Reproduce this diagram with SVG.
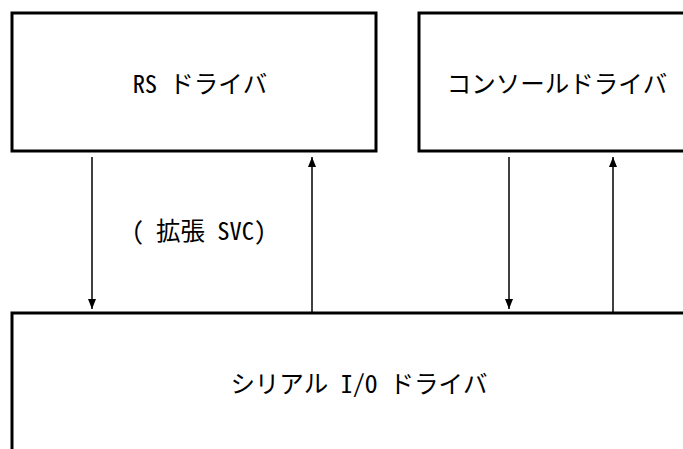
<svg xmlns="http://www.w3.org/2000/svg" width="683" height="449" viewBox="0 0 683 449">
<style>
.box{fill:#fff;stroke:#000;stroke-width:3}
.lbl{font-family:"Noto Sans Mono CJK JP","Noto Sans CJK JP","Noto Sans",sans-serif;font-size:24.5px;fill:#000;text-anchor:middle}
.conn{stroke:#000;stroke-width:1.5;fill:none}
</style>
<defs>
<marker id="ah" viewBox="0 0 10 8" refX="10" refY="4" markerWidth="10" markerHeight="8" markerUnits="userSpaceOnUse" orient="auto">
<path d="M0,0 L10,4 L0,8 z" fill="#000"/>
</marker>
</defs>
<rect width="683" height="449" fill="#fff"/>
<g id="rs-driver">
<rect class="box" x="12" y="13" width="364" height="138"/>
<text class="lbl" x="200" y="93">RS ドライバ</text>
</g>
<g id="console-driver">
<rect class="box" x="419" y="13" width="300" height="138"/>
<text class="lbl" x="557" y="93">コンソールドライバ</text>
</g>
<g id="serial-driver">
<rect class="box" x="12" y="313" width="700" height="200"/>
<text class="lbl" x="359" y="393">シリアル I/O ドライバ</text>
</g>
<g id="connectors">
<line class="conn" x1="92" y1="157" x2="92" y2="309" marker-end="url(#ah)"/>
<line class="conn" x1="312" y1="312" x2="312" y2="157" marker-end="url(#ah)"/>
<line class="conn" x1="509" y1="157" x2="509" y2="309" marker-end="url(#ah)"/>
<line class="conn" x1="613" y1="312" x2="613" y2="157" marker-end="url(#ah)"/>
<text class="lbl" x="199" y="240">( 拡張 SVC)</text>
</g>
</svg>
